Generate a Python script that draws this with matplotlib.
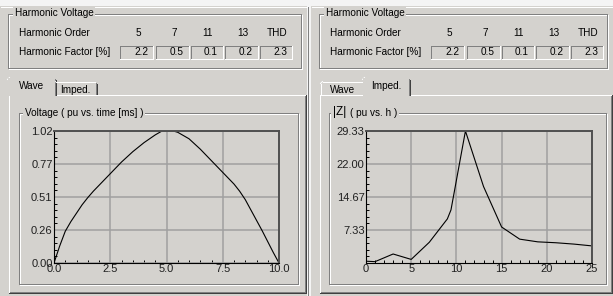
import matplotlib
matplotlib.use("Agg")
import matplotlib.pyplot as plt
from matplotlib.patches import Rectangle
from matplotlib.ticker import FixedLocator, MultipleLocator

# values
orders = ["5", "7", "11", "13", "THD"]
factors = ["2.2", "0.5", "0.1", "0.2", "2.3"]

wave_t = [0.0, 0.25, 0.5, 0.75, 1.0, 1.25, 1.5, 1.75, 2.0, 2.5, 3.0, 3.5, 4.0,
          4.5, 4.8, 5.3, 5.5, 6.0, 6.5, 7.0, 7.5, 8.0, 8.25, 8.5, 8.75, 9.0,
          9.25, 9.5, 9.75, 10.0]
wave_v = [0.0, 0.13, 0.245, 0.32, 0.385, 0.45, 0.505, 0.555, 0.60, 0.69, 0.78,
          0.86, 0.93, 0.99, 1.02, 1.02, 1.01, 0.96, 0.88, 0.79, 0.70, 0.61,
          0.555, 0.49, 0.41, 0.33, 0.25, 0.165, 0.08, 0.0]
wave_yticks = [0.0, 0.255, 0.51, 0.765, 1.02]
wave_ylabels = ["0.00", "0.26", "0.51", "0.77", "1.02"]
wave_xticks = [0.0, 2.5, 5.0, 7.5, 10.0]
wave_xlabels = ["0.0", "2.5", "5.0", "7.5", "10.0"]

imp_h = [0, 1, 3, 5, 7, 9, 9.4, 11, 13, 15, 17, 19, 21, 23, 25]
imp_z = [0.4, 0.3, 2.0, 0.8, 4.6, 9.8, 11.8, 29.33, 17.0, 8.0, 5.3, 4.7, 4.5, 4.2, 3.8]
imp_yticks = [7.3325, 14.665, 21.9975, 29.33]
imp_ylabels = ["7.33", "14.67", "22.00", "29.33"]
imp_xticks = [0, 5, 10, 15, 20, 25]
imp_xlabels = ["0", "5", "10", "15", "20", "25"]

BG = "#d4d2ce"
W, H = 613, 296
PX = 0.72
UI = dict(family=["Liberation Sans", "DejaVu Sans"], fontsize=7.2, color="black")

fig = plt.figure(figsize=(W / 100, H / 100), dpi=100, facecolor="#f4f4f4")
bg = fig.add_axes([0, 0, 1, 1])
bg.set_xlim(0, W)
bg.set_ylim(H, 0)
bg.axis("off")


def line(x1, y1, x2, y2, c):
    bg.plot([x1 + 0.5, x2 + 0.5], [y1 + 0.5, y2 + 0.5], color=c, lw=PX,
            solid_capstyle="projecting")


def box(x1, y1, x2, y2, tl, br):
    line(x1, y1, x2, y1, tl)
    line(x1, y1, x1, y2, tl)
    line(x1, y2, x2, y2, br)
    line(x2, y1, x2, y2, br)


def etched(x1, y1, x2, y2, title, tx, big=None):
    box(x1 + 1, y1 + 1, x2 + 1, y2 + 1, "white", "white")
    box(x1, y1, x2, y2, "#808080", "#808080")
    if big:
        bg.text(tx, y1 + 0.5, big, va="center", ha="left", zorder=5,
                family=["Liberation Sans", "DejaVu Sans"], fontsize=8.5,
                bbox=dict(fc=BG, ec="none", pad=1.2))
        tx += 17
    bg.text(tx, y1 + 0.5, title, va="center", ha="left", zorder=5,
            bbox=dict(fc=BG, ec="none", pad=1.2), **UI)


def axes_px(x1, y1, x2, y2):
    return fig.add_axes([x1 / W, 1 - y2 / H, (x2 - x1) / W, (y2 - y1) / H])


def panel(x0, right, sel):
    # outer panel
    bg.add_patch(Rectangle((x0, 6), right - x0, H - 6, fc=BG, ec="none"))
    line(x0, 6, right, 6, "white")
    line(right, 6, right, H - 1, "#808080")
    # harmonic voltage group
    etched(x0 + 7, 13, right - 7, 67, "Harmonic Voltage", x0 + 15)
    bg.text(x0 + 19, 33, "Harmonic Order", va="center", **UI)
    bg.text(x0 + 19, 52, "Harmonic Factor [%]", va="center", **UI)
    cols = [(119, 152), (155, 188), (190, 222), (224, 257), (259, 291)]
    for (a, b), o, f in zip(cols, orders, factors):
        bg.text(x0 + b - 14, 33, o, va="center", ha="center", **UI)
        box(x0 + a, 45, x0 + b, 58, "#808080", "white")
        bg.text(x0 + b - 4, 52, f, va="center", ha="right", **UI)
    # tab page
    tp = (x0 + 8, 94, right - 2, 292)
    line(tp[0], tp[1], tp[0], tp[3], "white")
    line(tp[0], tp[1], tp[2], tp[1], "white")
    line(tp[0] + 1, tp[3] - 1, tp[2] - 1, tp[3] - 1, "#808080")
    line(tp[2] - 1, tp[1] + 1, tp[2] - 1, tp[3] - 1, "#808080")
    line(tp[0], tp[3], tp[2], tp[3], "#404040")
    line(tp[2], tp[1], tp[2], tp[3], "#404040")
    tabs = [("Wave", x0 + 9, x0 + 53), ("Imped.", x0 + 53, x0 + 96)]
    for i, (name, a, b) in enumerate(tabs):
        top = 77 if i == sel else 81
        if i == sel:
            a, b = a - 2, b + 2
            bg.add_patch(Rectangle((a + 1, top + 1), b - a - 1, 94 - top + 1,
                                   fc=BG, ec="none", zorder=3))
        line(a, top + 2, a, 94, "white")
        line(a + 2, top, b - 2, top, "white")
        line(a, top + 2, a + 2, top, "white")
        line(b - 1, top + 1, b - 1, 94 if i == sel else 93, "#808080")
        line(b, top + 2, b, 94 if i == sel else 93, "#404040")
        bg.text((a + b) / 2 + 0.5, top + 9, name, va="center", ha="center",
                zorder=4, **UI)


def style(ax, xt, xl, yt, yl, xlim, ylim, xminor, yminor):
    ax.set_facecolor(BG)
    ax.set_xlim(*xlim)
    ax.set_ylim(*ylim)
    ax.xaxis.set_major_locator(FixedLocator(xt))
    ax.set_xticklabels(xl)
    ax.yaxis.set_major_locator(FixedLocator(yt))
    ax.set_yticklabels(yl)
    ax.xaxis.set_minor_locator(MultipleLocator(xminor))
    ax.yaxis.set_minor_locator(MultipleLocator(yminor))
    ax.grid(True, which="major", color="#a0a0a0", lw=1.1)
    ax.set_axisbelow(True)
    ax.tick_params(which="major", length=0, pad=1, labelsize=8,
                   labelcolor="#202020")
    ax.tick_params(which="minor", direction="in", length=2.5, width=0.7,
                   color="black")
    for lab in ax.get_xticklabels() + ax.get_yticklabels():
        lab.set_family(["Liberation Sans", "DejaVu Sans"])
    for s in ("left", "bottom"):
        ax.spines[s].set_color("black")
        ax.spines[s].set_linewidth(0.8)
    for s in ("top", "right"):
        ax.spines[s].set_color("#505050")
        ax.spines[s].set_linewidth(1.4)


# left panel: Wave
panel(0, 307, 0)
etched(18, 112, 297, 283, "Voltage ( pu vs. time [ms] )", 25)
ax1 = axes_px(54, 131, 279, 263)
ax1.plot(wave_t, wave_v, color="black", lw=0.8)
style(ax1, wave_xticks, wave_xlabels, wave_yticks, wave_ylabels,
      (0, 10), (0, 1.02), 0.5, 0.051)

# right panel: Imped.
panel(311, 613, 1)
etched(328, 112, 605, 283, "( pu vs. h )", 333, big="|Z|")
ax2 = axes_px(366, 131, 592, 263)
ax2.plot(imp_h, imp_z, color="black", lw=0.8)
style(ax2, imp_xticks, imp_xlabels, imp_yticks, imp_ylabels,
      (0, 25), (0, 29.33), 1, 1.4665)

fig.savefig("out.png", dpi=100, facecolor=fig.get_facecolor())
